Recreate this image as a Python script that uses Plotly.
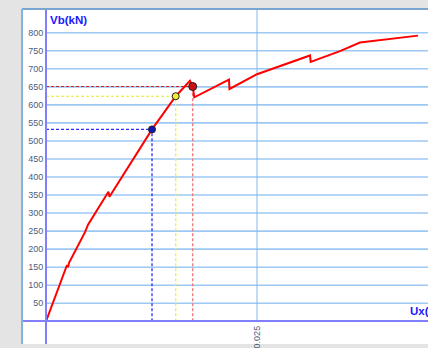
import plotly.graph_objects as go

# Pushover capacity curve: base shear vs. roof displacement
ux = [0.0, 0.00124, 0.00249, 0.00261, 0.00273, 0.00462, 0.00498,
      0.0074, 0.00752, 0.01256, 0.01537, 0.01706, 0.01738, 0.01757, 0.02168,
      0.02174, 0.025, 0.03128, 0.03136, 0.03483, 0.0372, 0.04408]
vb = [0, 77, 156, 150, 162, 247, 268,
      359, 345, 532, 624, 667, 651, 621, 670,
      644, 685, 737, 719, 749, 773, 792]

# Marked performance points (displacement, shear)
pt_ux = [0.01256, 0.01537, 0.01738]
pt_vb = [532, 624, 651]
pt_size = [7, 7, 8]
pt_fill = ["#1414b4", "#f4f030", "#c81414"]
guide_h = ["#2c2cff", "#e8e830", "#d82020"]
guide_v = ["#2c2cff", "#f0f040", "#f07878"]

y_ticks = [50, 100, 150, 200, 250, 300, 350, 400, 450, 500, 550, 600, 650, 700, 750, 800]
x_ticks = [0.025]
x_tick_text = ["0.025"]

X_MIN, X_MAX = -0.002844, 0.04526
Y_MIN, Y_MAX = -63.0, 865.8

fig = go.Figure()

shapes = []
# horizontal grid lines right of the vertical axis
for v in y_ticks:
    shapes.append(dict(type="line", xref="x", yref="y", x0=0, x1=X_MAX, y0=v, y1=v,
                       line=dict(color="#9cc8f4", width=1.6), layer="below"))
# vertical grid lines above the horizontal axis
for v in x_ticks:
    shapes.append(dict(type="line", xref="x", yref="y", x0=v, x1=v, y0=0, y1=Y_MAX,
                       line=dict(color="#86b8ec", width=1), layer="below"))
# dashed guides from each point to both axes, kept under the curve and markers
for xv, yv, ch, cv in zip(pt_ux, pt_vb, guide_h, guide_v):
    shapes.append(dict(type="line", xref="x", yref="y", x0=0, x1=xv, y0=yv, y1=yv,
                       line=dict(color=ch, width=1.1, dash="3px,2px"), layer="below"))
    shapes.append(dict(type="line", xref="x", yref="y", x0=xv, x1=xv, y0=0, y1=yv,
                       line=dict(color=cv, width=1.3, dash="3px,2px"), layer="below"))
# panel frame (top and left edges)
shapes.append(dict(type="line", xref="paper", yref="paper", x0=0, x1=1, y0=1, y1=1,
                   line=dict(color="#7aa4d2", width=2)))
shapes.append(dict(type="line", xref="paper", yref="paper", x0=0, x1=0, y0=0, y1=1,
                   line=dict(color="#86b2e2", width=2)))

fig.add_trace(go.Scatter(x=ux, y=vb, mode="lines",
                         line=dict(color="#ff0000", width=2), hoverinfo="skip"))
fig.add_trace(go.Scatter(x=pt_ux, y=pt_vb, mode="markers",
                         marker=dict(size=pt_size, color=pt_fill, opacity=1,
                                     line=dict(color="#202020", width=1)),
                         hoverinfo="skip"))

fig.update_layout(
    width=428, height=348,
    margin=dict(l=22, r=0, t=9, b=0),
    paper_bgcolor="#e4e4e4",
    plot_bgcolor="#ffffff",
    showlegend=False,
    shapes=shapes,
    font=dict(family="Liberation Sans, Arial, sans-serif"),
    xaxis=dict(range=[X_MIN, X_MAX], anchor="free", position=(348 - 325) / 339,
               showgrid=False, zeroline=False, showline=True,
               linecolor="#8080ff", linewidth=2,
               tickvals=x_ticks, ticktext=x_tick_text, tickangle=-90,
               ticks="", tickfont=dict(size=9, color="#4c5c7c")),
    yaxis=dict(range=[Y_MIN, Y_MAX], anchor="free", position=(46 - 22) / 406,
               showgrid=False, zeroline=False, showline=True,
               linecolor="#8080ff", linewidth=2,
               tickvals=y_ticks, ticks="", tickfont=dict(size=9, color="#4c5c7c")),
    annotations=[
        dict(text="<b>Vb(kN)</b>", xref="paper", yref="paper",
             x=(48 - 22) / 406, y=(348 - 20) / 339, xanchor="left", yanchor="middle",
             showarrow=False, font=dict(size=11.5, color="#1a1aff")),
        dict(text="<b>Ux(m)</b>", xref="paper", yref="paper",
             x=(408 - 22) / 406, y=(348 - 315) / 339, xanchor="left", yanchor="middle",
             showarrow=False, font=dict(size=11.5, color="#1a1aff")),
    ],
)

fig.write_html("out.html")
